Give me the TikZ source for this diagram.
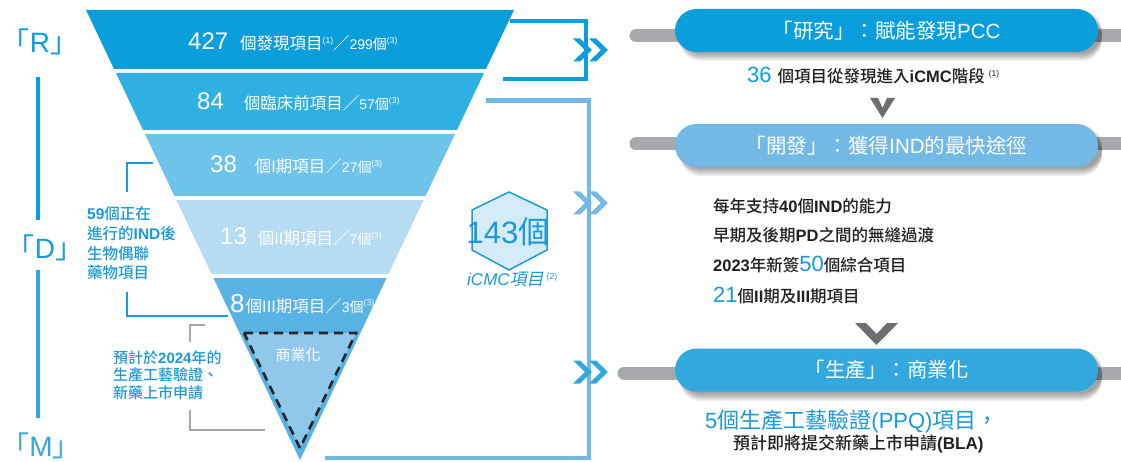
\documentclass[tikz,border=0pt]{standalone}
\usepackage{fontspec}
\setmainfont{Noto Sans CJK TC}[BoldFont={Noto Sans CJK TC Medium}]
\newfontfamily\ar{Liberation Sans}
\newfontfamily\cjkit{Noto Sans CJK TC}[FakeSlant=0.2]
\newcommand\fs[1]{\fontsize{#1}{#1}\selectfont}
\newcommand\sups[1]{\raisebox{6pt}{\fs{8.5}\mdseries\ar #1}}
\definecolor{c1}{HTML}{0A9FDC}
\definecolor{c2}{HTML}{2EB0E2}
\definecolor{c3}{HTML}{6EC3EB}
\definecolor{c4}{HTML}{B5DCF3}
\definecolor{c5}{HTML}{58B2E4}
\definecolor{c6}{HTML}{90C8EC}
\definecolor{cp2}{HTML}{72B9E6}
\definecolor{cp3}{HTML}{33A8DF}
\definecolor{ctext}{HTML}{1A9AD8}
\definecolor{gbar}{HTML}{A7A9AC}
\definecolor{dgray}{HTML}{6D6E71}
\definecolor{hexfill}{HTML}{D5EBF8}
\definecolor{txt}{HTML}{231F20}
\newcommand\rchev[3]{\fill[#3] (#1,#2-11.5) -- ++(7,0) -- ++(12,11.5) -- ++(-12,11.5) -- ++(-7,0) -- ++(12,-11.5) -- cycle;}
\newcommand\pshadow[2]{\foreach \d in {1.5,3,4.5,6,7.5,9}{\fill[black,opacity=0.07,rounded corners=21pt] (680,#1+\d) rectangle (1102,#2+\d);}}
\tikzset{
  pill/.style={minimum width=423pt, minimum height=43pt, rounded corners=21.5pt, text=white, font=\fs{20.5}, inner sep=0pt},
  bandtxt/.style={anchor=base west, inner sep=0pt, text=white},
  lefttxt/.style={anchor=base west, inner sep=0pt, text=ctext, font=\fs{15.5}\bfseries},
  midtxt/.style={anchor=base west, inner sep=0pt, text=txt, font=\fs{16.5}\bfseries},
  letter/.style={inner sep=0pt, font=\fs{28}},
}
\begin{document}
\begin{tikzpicture}[x=1pt,y=-1pt]
\useasboundingbox (0,0) rectangle (1121,462);
\clip (0,0) rectangle (1121,462);
\fill[white] (0,0) rectangle (1121,462);

% funnel
\fill[c1] (86,10) -- (514,10) -- (485.94,69) -- (114.06,69) -- cycle;
\fill[c2] (115.96,73) -- (484.04,73) -- (456.93,130) -- (143.07,130) -- cycle;
\fill[c3] (144.97,134) -- (455.03,134) -- (425.54,196) -- (174.46,196) -- cycle;
\fill[c4] (176.36,200) -- (423.64,200) -- (388.44,274) -- (211.56,274) -- cycle;
\fill[c5] (213.46,278) -- (386.54,278) -- (300,460) -- cycle;
\draw[fill=c6, draw=black!85, line width=2.6pt, dash pattern=on 9pt off 6pt] (244,333) -- (356,333) -- (300,448) -- cycle;

% band texts
\node[bandtxt] (b1) at (188,50) {{\ar\fs{24}427}\hspace{12pt}{\fs{16.5}個發現項目}\sups{(1)}{\fs{16.5}／}{\ar\fs{14}299}{\fs{14}個}\sups{(3)}};
\node[bandtxt] (b2) at (197,110) {{\ar\fs{24}84}\hspace{20pt}{\fs{16.5}個臨床前項目}{\fs{16.5}／}{\ar\fs{14}57}{\fs{14}個}\sups{(3)}};
\node[bandtxt] (b3) at (210,173) {{\ar\fs{24}38}\hspace{18pt}{\fs{16.5}個{\ar I}期項目}{\fs{16.5}／}{\ar\fs{14}27}{\fs{14}個}\sups{(3)}};
\node[bandtxt] (b4) at (220,245) {{\ar\fs{24}13}\hspace{11pt}{\fs{16.5}個{\ar II}期項目}{\fs{16.5}／}{\ar\fs{14}7}{\fs{14}個}\sups{(3)}};
\node[bandtxt] (b5) at (230,312) {{\ar\fs{26}8}\hspace{1pt}{\fs{16.5}個{\ar III}期項目}{\fs{16.5}／}{\ar\fs{14}3}{\fs{14}個}\sups{(3)}};
\node[inner sep=0pt, text=white, font=\fs{15}] (com) at (298,355) {商業化};

% left R D M
\node[letter, text=c1] (R) at (40,42) {「{\ar R}」};
\node[letter, text=ctext] (D) at (45,248) {「{\ar D}」};
\node[letter, text=cp3] (M) at (41,446) {「{\ar M}」};
\coordinate (v1a) at (38,77); \coordinate (v1b) at (38,220);
\coordinate (v2a) at (38,270); \coordinate (v2b) at (38,418);
\draw[c1, line width=4pt] (v1a) -- (v1b);
\draw[cp3, line width=4pt] (v2a) -- (v2b);

% left brackets
\draw[ctext, line width=1.8pt] (153,163) -- (127,163) -- (127,192);
\draw[ctext, line width=1.8pt] (127,292) -- (127,316) -- (228,316);
\draw[black!35, line width=1.4pt] (205,325) -- (190,325) -- (190,342);
\draw[black!35, line width=1.4pt] (190,410) -- (190,430) -- (265,430);

\node[lefttxt] (l1) at (87,220) {{\ar 59}個正在};
\node[lefttxt] (l2) at (87,240) {進行的{\ar IND}後};
\node[lefttxt] (l3) at (87,259) {生物偶聯};
\node[lefttxt] (l4) at (87,278) {藥物項目};
\node[lefttxt, font=\fs{15}\bfseries] (m1) at (113,363) {預計於{\ar 2024}年的};
\node[lefttxt, font=\fs{15}\bfseries] (m2) at (113,380) {生產工藝驗證、};
\node[lefttxt, font=\fs{15}\bfseries] (m3) at (113,398) {新藥上市申請};

% hexagon
\filldraw[fill=hexfill, draw=ctext, line width=1.5pt] (509,192) -- (547,210) -- (547,250) -- (509,270) -- (472,250) -- (472,210) -- cycle;
\node[inner sep=0pt, text=ctext, font=\fs{31}] (hx) at (508,232) {{\ar 143}個};
\node[anchor=base west, inner sep=0pt, text=ctext] (ic) at (467,286) {{\ar\itshape\fs{17}iCMC}{\cjkit\fs{17}項目}\hspace{3pt}\sups{(2)}};

% right brackets and chevrons
\draw[c1, line width=4pt] (510,21) -- (586,21) -- (586,79.5) -- (503,79.5);
\draw[cp2, line width=4.5pt] (486,100.5) -- (589,100.5) -- (589,458) -- (325,458);
\rchev{573}{50}{c1}\rchev{589}{50}{c1}
\rchev{573}{203}{cp2}\rchev{589}{203}{cp2}
\rchev{573}{372}{cp3}\rchev{589}{372}{cp3}

% gray bars
\draw[gbar, line width=13pt, line cap=round] (636,35.5) -- (1140,35.5);
\draw[gbar, line width=13pt, line cap=round] (636,144) -- (1140,144);
\draw[gbar, line width=13pt, line cap=round] (624,373) -- (1140,373);

% pills
\pshadow{9}{52}
\pshadow{124}{167}
\pshadow{348}{392}
\node[pill, fill=c1] (p1) at (886.5,30.5) {「研究」：賦能發現{\ar PCC}};
\node[pill, fill=cp2] (p2) at (886.5,145.5) {「開發」：獲得{\ar IND}的最快途徑};
\node[pill, fill=cp3] (p3) at (886.5,370) {「生產」：商業化};

% text under pill 1
\node[midtxt] (t36) at (747,83) {{\color{c1}\mdseries\ar\fs{22}36}\hspace{6pt}個項目從發現進入{\ar iCMC}階段\hspace{4pt}\sups{(1)}};
\fill[dgray] (870,98) -- (878,98) -- (882.5,108) -- (887,98) -- (895,98) -- (882.5,118) -- cycle;

% middle list
\node[midtxt] (r1) at (713,213) {每年支持{\ar 40}個{\ar IND}的能力};
\node[midtxt] (r2) at (713,242) {早期及後期{\ar PD}之間的無縫過渡};
\node[midtxt] (r3) at (713,272) {{\ar 2023}年新簽{\color{ctext}\mdseries\ar\fs{22}50}個綜合項目};
\node[midtxt] (r4) at (713,302) {{\color{ctext}\mdseries\ar\fs{22}21}個{\ar II}期及{\ar III}期項目};
\fill[dgray] (855,323) -- (866,323) -- (876.5,334) -- (887,323) -- (898,323) -- (876.5,345) -- cycle;

% bottom text
\node[anchor=base west, inner sep=0pt, text=ctext, font=\fs{22}] (q1) at (705,428) {{\ar 5}個生產工藝驗證{\ar (PPQ)}項目，};
\node[anchor=base west, inner sep=0pt, text=txt, font=\fs{17}\bfseries] (q2) at (733,449) {預計即將提交新藥上市申請{\ar (BLA)}};
\end{tikzpicture}
\end{document}
